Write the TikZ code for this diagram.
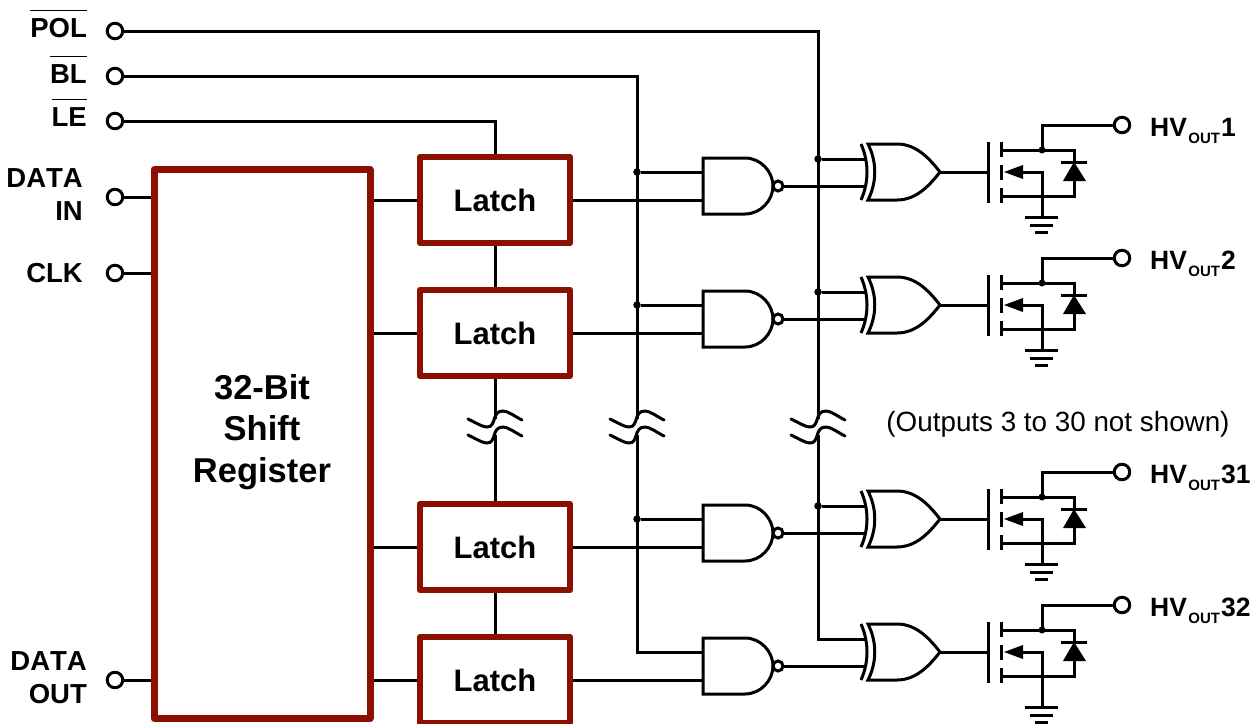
\documentclass[tikz,border=0pt]{standalone}
\usepackage{fontspec}
\setmainfont{Liberation Sans}[Kerning=Off]
\definecolor{boxred}{HTML}{8B1002}
\newcommand{\hvout}[1]{HV\,\raisebox{-7pt}{\hspace{-3pt}\fontsize{15}{15}\selectfont OUT}\hspace{1pt}#1}
\newcommand{\barred}[1]{$\overline{\mbox{\rule{0pt}{25.5pt}#1}}$}
\tikzset{
	wire/.style={line width=3pt},
	term/.style={circle,draw,fill=white,line width=3pt,minimum size=15.5pt,inner sep=0pt},
	jdot/.style={circle,fill=black,minimum size=7.5pt,inner sep=0pt},
	latch/.style={draw=boxred,line width=6.5pt,line join=round,minimum width=150pt,minimum height=86pt,font=\fontsize{31}{36}\selectfont\bfseries},
	pinlabel/.style={anchor=base east,align=right,inner sep=0pt,font=\fontsize{27.5}{33}\selectfont\bfseries},
	hvlabel/.style={anchor=base west,inner sep=0pt,font=\fontsize{26.5}{33}\selectfont\bfseries},
	pics/nandgate/.style={code={
		\draw[wire] (0,-28) -- (42,-28) .. controls (58,-28) and (70,-14) .. (70,0) .. controls (70,14) and (58,28) .. (42,28) -- (0,28) -- cycle;
		\draw[wire] (75,0) circle (5pt);
		\coordinate (-a) at (0,-14);
		\coordinate (-b) at (0,14);
		\coordinate (-o) at (80,0);
	}},
	pics/xorgate/.style={code={
		\draw[wire] (0,-28) .. controls (8,-10) and (8,10) .. (0,28);
		\draw[wire] (7,-28) -- (36,-28) .. controls (55,-28) and (68,-14) .. (79,0) .. controls (68,14) and (55,28) .. (36,28) -- (7,28) .. controls (16,10) and (16,-10) .. (7,-28) -- cycle;
		\coordinate (-a) at (5,-13);
		\coordinate (-b) at (5,14);
		\coordinate (-o) at (79,0);
	}},
	pics/mosfet/.style={code={
		\draw[wire] (0,-30) -- (0,31);
		\draw[wire] (13,-30) -- (13,-15);
		\draw[wire] (13,-7) -- (13,8);
		\draw[wire] (13,16) -- (13,31);
		\draw[wire] (13,-22) -- (86,-22) -- (86,-10);
		\draw[wire] (73,-10) -- (99,-10);
		\fill (86,-10) -- (75,9) -- (98,9) -- cycle;
		\draw[wire] (86,9) -- (86,24) -- (13,24);
		\fill (16,0) -- (35,-7) -- (35,7) -- cycle;
		\draw[wire] (35,0) -- (54,0) -- (54,#1);
		\draw[wire] (37,#1) -- (70,#1);
		\draw[wire] (42,#1+8) -- (65,#1+8);
		\draw[wire] (47,#1+15) -- (60,#1+15);
		\fill (54,-22) circle (3.5pt);
		\coordinate (-g) at (0,0);
		\coordinate (-o) at (54,-22);
	}},
	pics/breakmark/.style={code={
		\foreach \s in {0,16}
		{
			\draw[wire,line cap=round] (-27,-8+\s) .. controls (-17,-3+\s) and (-12,\s) .. (-8,\s) .. controls (2,\s) and (-4,-16+\s) .. (8,-16+\s) .. controls (13,-16+\s) and (19,-11+\s) .. (27,-7+\s);
		}
		\coordinate (-u) at (0,-8);
		\coordinate (-d) at (0,8);
	}}
}
\begin{document}
\begin{tikzpicture}[x=1pt,y=-1pt]
	\useasboundingbox (0,0) rectangle (1255,723);
	
	\node[term] (pol) at (115,31) {};
	\node[term] (bl) at (115,76) {};
	\node[term] (le) at (115,121) {};
	\node[term] (datain) at (115,197) {};
	\node[term] (clk) at (115,273) {};
	\node[term] (dataout) at (115,680) {};
	
	\node[pinlabel] (pollabel) at (87,37.5) {\barred{POL}};
	\node[pinlabel] (bllabel) at (87,83) {\barred{BL}};
	\node[pinlabel] (lelabel) at (87,126) {\barred{LE}};
	\node[pinlabel] (dinlabel) at (83,220) {DATA\\IN};
	\node[pinlabel] (clklabel) at (83,282) {CLK};
	\node[pinlabel] (doutlabel) at (87,703) {DATA\\OUT};
	
	\node[draw=boxred,line width=7pt,line join=round,minimum width=216pt,minimum height=548.5pt] (reg) at (262,444) {};
	\node[align=center,font=\fontsize{34.5}{41.5}\selectfont\bfseries] (regtext) at (262,432) {32-Bit\\Shift\\Register};
	
	\node[latch] (latch1) at (495,200) {Latch};
	\node[latch] (latch2) at (495,333) {Latch};
	\node[latch] (latch3) at (495,547) {Latch};
	\node[latch] (latch4) at (495,680) {Latch};
	
	\pic (lb) at (495,427) {breakmark};
	\pic (bb) at (637,427) {breakmark};
	\pic (pb) at (818,427) {breakmark};
	
	\draw[wire] (datain) -- (datain -| reg.west);
	\draw[wire] (clk) -- (clk -| reg.west);
	\draw[wire] (dataout) -- (dataout -| reg.west);
	\draw[wire] (le) -| (latch1.north);
	\draw[wire] (latch1) -- (latch2);
	\draw[wire] (latch2) -- (lb-u);
	\draw[wire] (lb-d) -- (latch3);
	\draw[wire] (latch3) -- (latch4);
	
	\foreach \n/\y/\g in {1/172/45,2/305/45,3/519/45,4/652/55}
	{
		\draw[wire] (latch\n.west -| reg.east) -- (latch\n.west);
		\pic (nand\n) at (703,\y+14) {nandgate};
		\pic (xor\n) at (861,\y) {xorgate};
		\pic (mos\n) at (988,\y) {mosfet=\g};
		\node[term] (hv\n) at (1122,\y-47) {};
		\draw[wire] (latch\n.east) -- (nand\n-b);
		\draw[wire] (nand\n-o) -- (xor\n-b);
		\draw[wire] (xor\n-o) -- (mos\n-g);
		\draw[wire] (mos\n-o) |- (hv\n);
	}
	\node[hvlabel] (hvtext1) at (1150,136) {\hvout{1}};
	\node[hvlabel] (hvtext2) at (1150,269) {\hvout{2}};
	\node[hvlabel] (hvtext3) at (1150,483) {\hvout{31}};
	\node[hvlabel] (hvtext4) at (1150,616) {\hvout{32}};
	
	\coordinate (bltop) at (637,76);
	\coordinate (poltop) at (818,31);
	\draw[wire] (bl) -- (bltop) -- (bb-u);
	\draw[wire] (pol) -- (poltop) -- (pb-u);
	\draw[wire] (bb-d) |- (nand4-a);
	\draw[wire] (pb-d) |- (xor4-a);
	\foreach \n in {1,2,3}
	{
		\node[jdot] (bldot\n) at (nand\n-a -| bltop) {};
		\node[jdot] (poldot\n) at (xor\n-a -| poltop) {};
		\draw[wire] (bldot\n) -- (nand\n-a);
		\draw[wire] (poldot\n) -- (xor\n-a);
	}
	
	\node[font=\fontsize{27.8}{30}\selectfont] (notshown) at (1058,424) {(Outputs 3 to 30 not shown)};
\end{tikzpicture}
\end{document}
